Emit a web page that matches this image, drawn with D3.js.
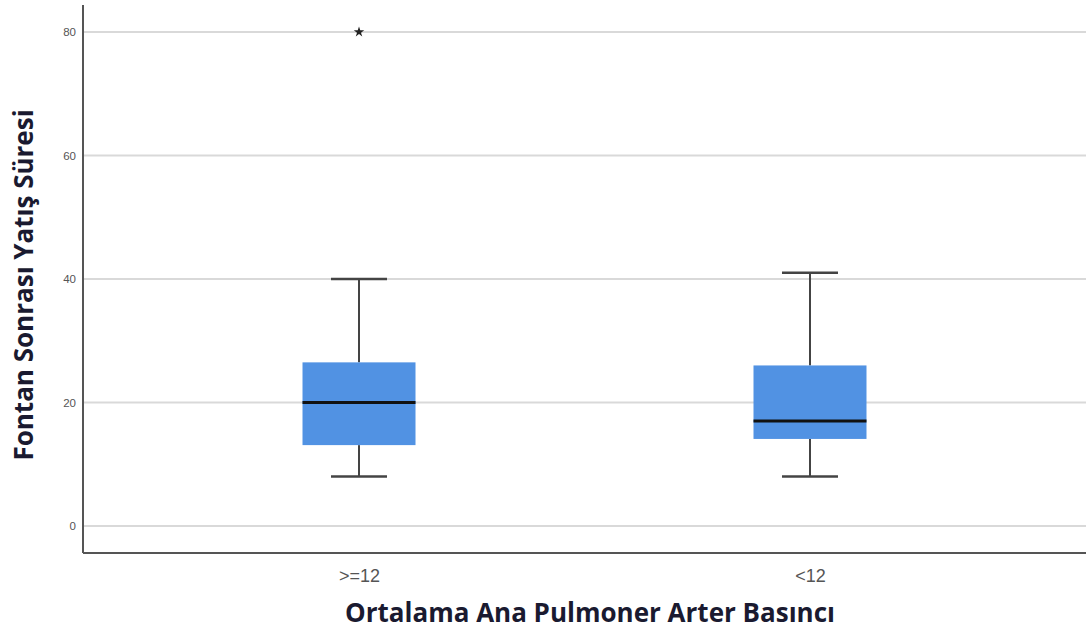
<!DOCTYPE html>
<html><head><meta charset="utf-8">
<script src="https://cdn.jsdelivr.net/npm/d3@7"></script>
<style>body{margin:0;background:#fff}svg{display:block}</style>
</head><body><svg id="c" width="1086" height="632"></svg>
<script>
const categories = [">=12", "<12"];
const q1 = [13.1, 14.1];
const median = [20, 17];
const q3 = [26.5, 26];
const whiskerLow = [8, 8];
const whiskerHigh = [40, 41];
const outliers = [[80], []];
const yTicks = [0, 20, 40, 60, 80];

(function(){
const svg = d3.select("#c");
const pLeft = 83, pRight = 1086, pTop = 5, pBottom = 553;
const y = d3.scaleLinear().domain([0, 80]).range([526, 32]);
const x = d3.scalePoint().domain(categories).range([pLeft, pRight]).padding(0.612);
const boxW = 113, capW = 56;

// grid
svg.append("g").selectAll("line").data(yTicks).join("line")
  .attr("x1", pLeft).attr("x2", pRight)
  .attr("y1", d => y(d)).attr("y2", d => y(d))
  .attr("stroke", "#d9d9d9").attr("stroke-width", 2);

// y tick labels
const yAxis = d3.axisLeft(y).tickValues(yTicks).tickSize(0).tickPadding(7);
const ga = svg.append("g").attr("transform", `translate(${pLeft},0)`).call(yAxis);
ga.select(".domain").remove();
ga.selectAll("text").attr("font-family", "Arial, Liberation Sans, sans-serif")
  .attr("font-size", 11.5).attr("fill", "#555");

// axis lines
svg.append("line").attr("x1", pLeft).attr("x2", pLeft).attr("y1", pTop).attr("y2", pBottom)
  .attr("stroke", "#555").attr("stroke-width", 2);
svg.append("line").attr("x1", pLeft).attr("x2", pRight).attr("y1", pBottom).attr("y2", pBottom)
  .attr("stroke", "#555").attr("stroke-width", 2);

// x tick labels
const xAxis = d3.axisBottom(x).tickSize(0).tickPadding(16);
const gx = svg.append("g").attr("transform", `translate(0,${pBottom})`).call(xAxis);
gx.select(".domain").remove();
gx.selectAll("text").attr("font-family", "Arial, Liberation Sans, sans-serif")
  .attr("font-size", 18).attr("fill", "#555");

// boxes
const data = categories.map((c, i) => ({c, q1: q1[i], med: median[i], q3: q3[i], lo: whiskerLow[i], hi: whiskerHigh[i], out: outliers[i]}));
const g = svg.append("g").selectAll("g").data(data).join("g");
g.append("line").attr("x1", d => x(d.c)).attr("x2", d => x(d.c))
  .attr("y1", d => y(d.hi)).attr("y2", d => y(d.q3)).attr("stroke", "#444").attr("stroke-width", 2);
g.append("line").attr("x1", d => x(d.c)).attr("x2", d => x(d.c))
  .attr("y1", d => y(d.q1)).attr("y2", d => y(d.lo)).attr("stroke", "#444").attr("stroke-width", 2);
g.append("line").attr("x1", d => x(d.c) - capW/2).attr("x2", d => x(d.c) + capW/2)
  .attr("y1", d => y(d.hi)).attr("y2", d => y(d.hi)).attr("stroke", "#444").attr("stroke-width", 2.5);
g.append("line").attr("x1", d => x(d.c) - capW/2).attr("x2", d => x(d.c) + capW/2)
  .attr("y1", d => y(d.lo)).attr("y2", d => y(d.lo)).attr("stroke", "#444").attr("stroke-width", 2.5);
g.append("rect").attr("x", d => x(d.c) - boxW/2).attr("width", boxW)
  .attr("y", d => y(d.q3)).attr("height", d => y(d.q1) - y(d.q3)).attr("fill", "#5192E3");
g.append("line").attr("x1", d => x(d.c) - boxW/2).attr("x2", d => x(d.c) + boxW/2)
  .attr("y1", d => y(d.med)).attr("y2", d => y(d.med)).attr("stroke", "#111").attr("stroke-width", 3);
g.selectAll("path.out").data(d => d.out.map(v => ({c: d.c, v}))).join("path")
  .attr("class", "out")
  .attr("d", d3.symbol(d3.symbolStar, 34))
  .attr("transform", d => `translate(${x(d.c)},${y(d.v)})`).attr("fill", "#222");

// titles
svg.append("text").attr("x", 590).attr("y", 622).attr("text-anchor", "middle")
  .attr("font-family", "Open Sans, sans-serif").attr("font-weight", "bold").attr("font-size", 26)
  .attr("fill", "#1a1a30").text("Ortalama Ana Pulmoner Arter Basıncı");
svg.append("text").attr("transform", "translate(33,285) rotate(-90)").attr("text-anchor", "middle")
  .attr("font-family", "Open Sans, sans-serif").attr("font-weight", "bold").attr("font-size", 26)
  .attr("fill", "#1a1a30").text("Fontan Sonrası Yatış Süresi");
})();
</script></body></html>
